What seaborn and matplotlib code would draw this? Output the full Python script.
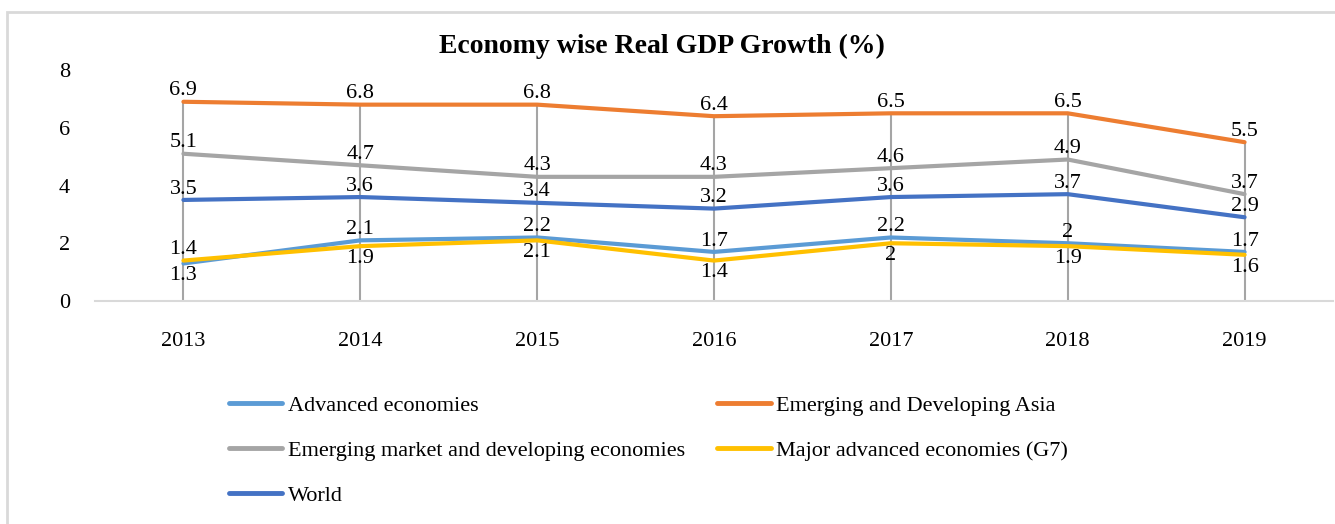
import matplotlib
matplotlib.use("Agg")
import matplotlib.pyplot as plt
import seaborn as sns
import pandas as pd
from matplotlib.lines import Line2D
from matplotlib.patches import Rectangle

years = ["2013", "2014", "2015", "2016", "2017", "2018", "2019"]
advanced = [1.3, 2.1, 2.2, 1.7, 2.2, 2.0, 1.7]
em_asia = [6.9, 6.8, 6.8, 6.4, 6.5, 6.5, 5.5]
emde = [5.1, 4.7, 4.3, 4.3, 4.6, 4.9, 3.7]
g7 = [1.4, 1.9, 2.1, 1.4, 2.0, 1.9, 1.6]
world = [3.5, 3.6, 3.4, 3.2, 3.6, 3.7, 2.9]

series_names = [
    "Advanced economies",
    "Emerging and Developing Asia",
    "Emerging market and developing economies",
    "Major advanced economies (G7)",
    "World",
]
series_vals = [advanced, em_asia, emde, g7, world]
colors = ["#5B9BD5", "#ED7D31", "#A5A5A5", "#FFC000", "#4472C4"]

sns.set_theme(style="white")
plt.rcParams["font.family"] = ["Liberation Serif", "DejaVu Serif"]
plt.rcParams["text.color"] = "black"

rows = []
for name, vals in zip(series_names, series_vals):
    for i, (y, v) in enumerate(zip(years, vals)):
        rows.append({"Year": y, "idx": i, "Value": v, "Series": name})
df = pd.DataFrame(rows)

fig = plt.figure(figsize=(13.35, 5.24), dpi=100)
ax = fig.add_axes([95 / 1335, 1 - 301 / 524, (1333 - 95) / 1335, (301 - 70) / 524])

# drop lines (from highest value to axis)
for i in range(len(years)):
    top = max(v[i] for v in series_vals)
    ax.plot([i, i], [0, top], color="#A5A5A5", lw=1.5, zorder=1)

sns.lineplot(data=df, x="idx", y="Value", hue="Series", hue_order=series_names,
             palette=colors, linewidth=3, ax=ax, legend=False, zorder=3)
for l in ax.lines[len(years):]:
    l.set_solid_capstyle("round")

def fmt(v):
    return f"{v:g}"

fs = 16
for name, vals in zip(series_names, series_vals):
    for i, v in enumerate(vals):
        below = False
        if name == "Advanced economies" and v < g7[i]:
            below = True
        if name == "Major advanced economies (G7)" and v <= advanced[i]:
            below = True
        if below:
            ax.annotate(fmt(v), (i, v), xytext=(0, -2), textcoords="offset points",
                        ha="center", va="top", fontsize=fs, color="black", zorder=5)
        else:
            ax.annotate(fmt(v), (i, v), xytext=(0, 1), textcoords="offset points",
                        ha="center", va="bottom", fontsize=fs, color="black", zorder=5)

ax.set_xlim(-0.5, 6.5)
ax.set_ylim(0, 8)
ax.set_yticks([0, 2, 4, 6, 8])
ax.set_xticks(range(len(years)))
ax.set_xticklabels(years)
ax.tick_params(axis="both", labelsize=fs, length=0, colors="black")
ax.tick_params(axis="x", pad=22)
ax.tick_params(axis="y", pad=18)
ax.set_xlabel("")
ax.set_ylabel("")
for s in ["top", "right", "left"]:
    ax.spines[s].set_visible(False)
ax.spines["bottom"].set_color("#D9D9D9")
ax.spines["bottom"].set_linewidth(1.5)
ax.grid(False)

fig.text(662 / 1335, 1 - 46 / 524, "Economy wise Real GDP Growth (%)", ha="center", va="center",
         fontsize=20, fontweight="bold", color="black")

handles = [Line2D([0], [0], color=c, lw=3.5) for c in colors]
order = [0, 2, 4, 1, 3]
leg = fig.legend([handles[k] for k in order], [series_names[k] for k in order],
                 ncol=2, loc="upper left", bbox_to_anchor=(229 / 1335, 1 - 395 / 524),
                 frameon=False, fontsize=fs, handlelength=2.4, handletextpad=0.25,
                 labelspacing=1.1, columnspacing=1.45, borderaxespad=0, borderpad=0)
for t in leg.get_texts():
    t.set_color("black")

fig.patches.append(Rectangle((7 / 1335, -0.1), 1.2, 1 - 12 / 524 + 0.1, transform=fig.transFigure,
                             fill=False, edgecolor="#D9D9D9", lw=2, zorder=0))

fig.savefig("out.png", dpi=100)
